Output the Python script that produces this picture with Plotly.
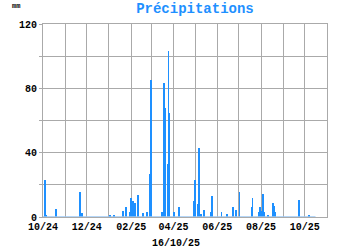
import plotly.graph_objects as go

dates = ["2024-10-04", "2024-10-05", "2024-10-19", "2024-11-22", "2024-11-24",
         "2025-01-02", "2025-01-08", "2025-01-21", "2025-01-25", "2025-01-30",
         "2025-02-01", "2025-02-03", "2025-02-06", "2025-02-10", "2025-02-17",
         "2025-02-23", "2025-02-27", "2025-03-01", "2025-03-16", "2025-03-18",
         "2025-03-19", "2025-03-20", "2025-03-24", "2025-03-25", "2025-03-26",
         "2025-04-02", "2025-04-09", "2025-04-30", "2025-05-01", "2025-05-05",
         "2025-05-07", "2025-05-09", "2025-05-14", "2025-05-23", "2025-05-25",
         "2025-06-07", "2025-06-15", "2025-06-23", "2025-06-27", "2025-07-02",
         "2025-07-19", "2025-07-20", "2025-07-29", "2025-07-31", "2025-08-01",
         "2025-08-04", "2025-08-06", "2025-08-11", "2025-08-18", "2025-08-19",
         "2025-08-20", "2025-09-23", "2025-10-07"]
rain = [23, 1, 5, 15.5, 2.5,
        1, 1, 4, 6, 3,
        12, 10, 9, 13.5, 2.7,
        3, 27, 85, 3, 57,
        83.5, 67.6, 33, 103, 64.5,
        3, 6.4, 10, 23, 8,
        42.7, 2, 4.4, 3, 13,
        3.3, 2, 6.4, 4.4, 15.5,
        6, 12, 3, 6, 4,
        14.5, 3, 1.5, 8.5, 7,
        3, 10.4, 1]

zero_span = ["2024-10-01", "2025-10-16"]
zero_vals = [0, 0]

month_ticks = ["2024-10-01", "2024-11-01", "2024-12-01", "2025-01-01", "2025-02-01",
               "2025-03-01", "2025-04-01", "2025-05-01", "2025-06-01", "2025-07-01",
               "2025-08-01", "2025-09-01", "2025-10-01", "2025-11-01"]
month_text = ["10/24", "", "12/24", "", "02/25", "", "04/25", "", "06/25", "",
              "08/25", "", "10/25", ""]
y_ticks = [0, 20, 40, 60, 80, 100, 120]
y_text = ["0", "", "40", "", "80", "", "120"]

mono = "Liberation Mono"

fig = go.Figure()
fig.add_trace(go.Scatter(x=zero_span, y=zero_vals, mode="lines",
                         line=dict(color="#9cc9f5", width=1.5), hoverinfo="skip"))
fig.add_trace(go.Bar(x=dates, y=rain, width=86400000 * 1.1,
                     marker=dict(color="#1E90FF", line=dict(width=0))))

fig.update_layout(
    width=350, height=250,
    margin=dict(l=43, r=23, t=24, b=33, autoexpand=False),
    paper_bgcolor="white", plot_bgcolor="white",
    showlegend=False,
    bargap=0,
    title=dict(text="<b>Précipitations</b>", x=0.557, xanchor="center", y=0.968, yanchor="middle",
               font=dict(family=mono, size=14, color="#1E90FF")),
    annotations=[
        dict(text="<b>mm</b>", xref="paper", yref="paper", x=-0.095, y=1.095, xanchor="center",
             yanchor="middle", showarrow=False, font=dict(family=mono, size=7, color="black")),
        dict(text="<b>16/10/25</b>", xref="paper", yref="paper", x=0.47, y=-0.135, xanchor="center",
             yanchor="middle", showarrow=False, font=dict(family=mono, size=10, color="black")),
    ],
)
fig.update_xaxes(
    type="date", range=["2024-10-01", "2025-11-01"],
    tickmode="array", tickvals=month_ticks, ticktext=[f"<b>{t}</b>" if t else "" for t in month_text],
    tickfont=dict(family=mono, size=10, color="black"), tickangle=0, automargin=False,
    showgrid=True, gridcolor="#aaaaaa", gridwidth=1,
    showline=True, linecolor="#aaaaaa", mirror=True,
    ticks="",
)
fig.update_yaxes(
    range=[0, 120], tickmode="array", tickvals=y_ticks,
    ticktext=[f"<b>{t}</b>" if t else "" for t in y_text], automargin=False,
    tickfont=dict(family=mono, size=10, color="black"),
    showgrid=True, gridcolor="#aaaaaa", gridwidth=1,
    showline=True, linecolor="#aaaaaa", mirror=True,
    ticks="outside", ticklen=3, tickcolor="#aaaaaa", zeroline=False,
)

fig.write_html("out.html")
